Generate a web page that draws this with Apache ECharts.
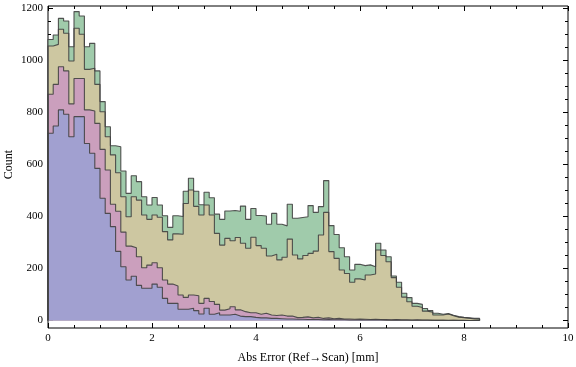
<!DOCTYPE html>
<html><head><meta charset="utf-8">
<script src="https://cdn.jsdelivr.net/npm/echarts@6/dist/echarts.min.js"></script>
<style>html,body{margin:0;padding:0;background:#fff}#c{width:576px;height:367px}</style>
</head><body><div id="c"></div>
<script>
// Histogram bins: width 0.1 mm starting at 0
const binStart = 0;
const binWidth = 0.1;
const xTicks = [0, 2, 4, 6, 8, 10];
const yTicks = [0, 200, 400, 600, 800, 1000, 1200];

const greenCounts = [
  1081,1098,1162,1152,1053,1188,1171,1053,1066,960,
  842,745,672,668,575,489,557,534,476,444,
  473,444,403,358,403,400,497,547,497,445,
  493,472,409,389,421,423,420,440,389,431,
  404,402,370,412,370,364,447,393,396,399,
  442,416,438,538,365,331,280,245,194,216,
  211,214,207,297,271,245,171,147,105,88,
  66,62,46,38,28,24,27,20,15,12,
  10,8,8];
const khakiCounts = [
  1056,1062,1120,1105,998,1124,1101,966,970,908,
  803,707,637,568,476,399,476,463,406,389,
  406,397,342,310,333,332,450,502,439,406,
  444,406,335,290,316,307,319,297,278,320,
  288,278,248,255,233,243,313,252,237,250,
  258,267,329,416,265,239,194,181,147,160,
  156,175,179,271,250,226,165,128,90,72,
  55,50,36,32,21,21,25,18,13,11,
  9,6,5];
const pinkCounts = [
  870,908,976,960,833,931,931,810,806,758,
  658,579,447,420,340,286,280,245,203,213,
  222,203,156,140,133,98,89,98,95,66,
  85,73,62,40,45,53,41,34,30,30,
  24,28,21,19,21,17,17,11,12,14,
  10,12,8,10,7,8,6,6,5,6,
  5,4,5,4,4,3,4,3,3,2,
  3,2,2,2,1,2,1,1,1,1,
  0,0,0];
const blueCounts = [
  720,748,810,793,707,784,784,681,643,585,
  470,412,361,266,207,156,170,135,124,124,
  140,128,85,66,66,43,43,47,38,25,
  47,24,30,21,21,24,17,15,15,12,
  10,10,8,8,7,6,6,5,5,4,
  4,4,3,4,3,3,3,2,2,3,
  2,2,2,2,1,1,2,1,1,1,
  1,1,1,0,1,0,0,1,0,0,
  0,0,0];

function histPoints(counts) {
  const pts = [[binStart, 0]];
  counts.forEach((c, i) => pts.push([+(binStart + i * binWidth).toFixed(4), c]));
  const end = +(binStart + counts.length * binWidth).toFixed(4);
  pts.push([end, counts[counts.length - 1]]);
  pts.push([end, 0]);
  return pts;
}

const font = 'Liberation Serif';
function histSeries(counts, fill) {
  return {
    type: 'line', xAxisIndex: 0, yAxisIndex: 0, step: 'end', symbol: 'none',
    data: histPoints(counts), animation: false,
    lineStyle: { color: 'rgba(65,65,65,0.9)', width: 1.1 },
    areaStyle: { color: fill, opacity: 1 }
  };
}

const chart = echarts.init(document.getElementById('c'), null, { renderer: 'canvas' });
const tickStyle = { show: true, inside: true, length: 5, lineStyle: { color: '#000', width: 1 } };
const minorStyle = { show: true, splitNumber: 4, length: 3, lineStyle: { color: '#000', width: 1 } };
const plain = v => String(v);
chart.setOption({
  backgroundColor: '#fff',
  animation: false,
  grid: [
    { left: 48, right: 8, top: 8.5, bottom: 46.5, show: false, containLabel: false, outerBoundsMode: 'none' },
    { left: 48, right: 8, top: 6, bottom: 39, show: true, borderColor: '#000', borderWidth: 1,
      backgroundColor: 'transparent', containLabel: false, outerBoundsMode: 'none' }
  ],
  xAxis: [
    { gridIndex: 0, type: 'value', min: 0, max: 10, show: false },
    { gridIndex: 1, type: 'value', min: xTicks[0], max: xTicks[xTicks.length - 1], interval: 2, position: 'bottom',
      axisLine: { show: false }, axisTick: tickStyle, minorTick: minorStyle, splitLine: { show: false },
      axisLabel: { color: '#000', fontFamily: font, fontSize: 11, margin: 5, formatter: plain },
      name: 'Abs Error (Ref\u2192Scan) [mm]', nameLocation: 'middle', nameGap: 24, nameMoveOverlap: false,
      nameTextStyle: { color: '#000', fontFamily: font, fontSize: 12 } },
    { gridIndex: 1, type: 'value', min: 0, max: 10, interval: 2, position: 'top',
      axisLine: { show: false }, axisTick: tickStyle, minorTick: minorStyle, splitLine: { show: false },
      axisLabel: { show: false } }
  ],
  yAxis: [
    { gridIndex: 0, type: 'value', min: yTicks[0], max: yTicks[yTicks.length - 1], interval: 200, position: 'left',
      axisLine: { show: false }, axisTick: tickStyle, minorTick: minorStyle, splitLine: { show: false },
      axisLabel: { color: '#000', fontFamily: font, fontSize: 11, margin: 5, formatter: plain },
      name: 'Count', nameLocation: 'middle', nameGap: 33, nameMoveOverlap: false,
      nameTextStyle: { color: '#000', fontFamily: font, fontSize: 12 } },
    { gridIndex: 0, type: 'value', min: 0, max: 1200, interval: 200, position: 'right',
      axisLine: { show: false }, axisTick: tickStyle, minorTick: minorStyle, splitLine: { show: false },
      axisLabel: { show: false } },
    { gridIndex: 1, type: 'value', min: 0, max: 1, show: false }
  ],
  series: [
    histSeries(greenCounts, '#a0cbab'),
    histSeries(khakiCounts, '#cdc7a1'),
    histSeries(pinkCounts, '#cb9fbd'),
    histSeries(blueCounts, '#a1a0d0')
  ]
});
</script></body></html>
